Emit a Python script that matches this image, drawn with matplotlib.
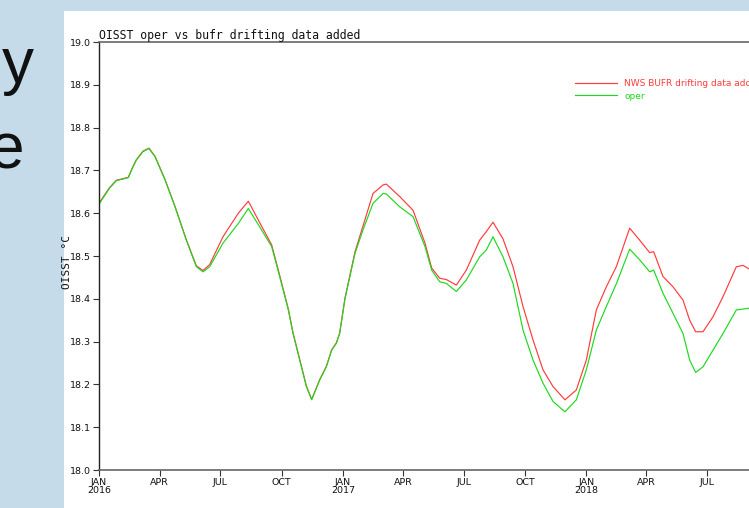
import numpy as np
import pandas as pd
import matplotlib
matplotlib.use("Agg")
import matplotlib.pyplot as plt
import matplotlib.dates as mdates
from matplotlib.patches import Rectangle

# ---- data (days since 2016-01-01, OISST values) ----
days = [0, 8, 16, 26, 34, 44, 50, 56, 66, 75, 84, 99, 114, 131, 146, 156, 166,
        186, 209, 224, 241, 259, 271, 284, 291, 301, 311, 319, 331, 341, 349,
        356, 361, 369, 384, 396, 411, 426, 431, 451, 471, 489, 499, 511, 521,
        536, 551, 571, 581, 591, 606, 621, 636, 651, 666, 681, 699, 716, 731,
        746, 761, 776, 796, 811, 826, 832, 846, 861, 876, 886, 895, 906, 921,
        936, 956, 966, 975]
oper = [18.621, 18.640, 18.659, 18.676, 18.679, 18.683, 18.705, 18.724, 18.744,
        18.751, 18.732, 18.678, 18.615, 18.537, 18.475, 18.463, 18.475, 18.530,
        18.576, 18.611, 18.568, 18.522, 18.452, 18.374, 18.319, 18.257, 18.195,
        18.164, 18.210, 18.241, 18.280, 18.296, 18.319, 18.400, 18.506, 18.561,
        18.623, 18.646, 18.645, 18.615, 18.592, 18.522, 18.467, 18.440, 18.436,
        18.417, 18.444, 18.498, 18.514, 18.545, 18.498, 18.436, 18.327, 18.257,
        18.203, 18.160, 18.136, 18.164, 18.234, 18.327, 18.382, 18.435, 18.516,
        18.491, 18.463, 18.467, 18.413, 18.366, 18.319, 18.257, 18.228, 18.241,
        18.280, 18.319, 18.374, 18.376, 18.378]
bufr = [18.623, 18.642, 18.660, 18.677, 18.680, 18.684, 18.706, 18.725, 18.745,
        18.752, 18.733, 18.679, 18.616, 18.538, 18.477, 18.466, 18.480, 18.545,
        18.600, 18.628, 18.578, 18.526, 18.455, 18.376, 18.321, 18.259, 18.197,
        18.165, 18.211, 18.242, 18.281, 18.297, 18.320, 18.402, 18.510, 18.570,
        18.646, 18.666, 18.668, 18.639, 18.607, 18.530, 18.472, 18.448, 18.445,
        18.432, 18.467, 18.537, 18.557, 18.579, 18.540, 18.475, 18.382, 18.304,
        18.234, 18.195, 18.164, 18.187, 18.257, 18.374, 18.428, 18.475, 18.565,
        18.537, 18.508, 18.510, 18.452, 18.428, 18.397, 18.350, 18.323, 18.323,
        18.358, 18.405, 18.475, 18.478, 18.470]
series_labels = ["NWS BUFR drifting data added", "oper"]
title = "OISST oper vs bufr drifting data added"
ylabel = "OISST \u00b0C"
yticks = [18.0, 18.1, 18.2, 18.3, 18.4, 18.5, 18.6, 18.7, 18.8, 18.9, 19.0]

dates = pd.Timestamp("2016-01-01") + pd.to_timedelta(days, unit="D")

NARROW = ["Liberation Sans Narrow", "DejaVu Sans"]
MONO = ["DejaVu Sans Mono", "DejaVu Sans"]

W, H = 749, 508
fig = plt.figure(figsize=(W / 100, H / 100), dpi=100)
fig.patch.set_facecolor("#c5dbe9")
panel = Rectangle((64 / W, 0), 1 - 64 / W, (H - 11) / H,
                  transform=fig.transFigure, facecolor="white",
                  edgecolor="none", zorder=-10)
fig.patches.append(panel)

# partial slide text on the left
fig.text(34 / W, 1 - 83 / H, "y", fontsize=46, family="Liberation Sans",
         ha="right", va="baseline", color="#111111")
fig.text(24 / W, 1 - 168 / H, "e", fontsize=46, family="Liberation Sans",
         ha="right", va="baseline", color="#111111")

ax = fig.add_axes([99 / W, 38 / H, 730 / W, 428 / H])
ax.set_zorder(5)
ax.set_facecolor("none")
ax.plot(dates, bufr, color="#ff3b3b", lw=0.85, label=series_labels[0])
ax.plot(dates, oper, color="#1ed81e", lw=0.85, label=series_labels[1])

ax.set_ylim(18.0, 19.0)
ax.set_xlim(pd.Timestamp("2016-01-01"), pd.Timestamp("2016-01-01") + pd.Timedelta(days=1095))
ax.set_yticks(yticks)
ax.set_yticklabels([f"{v:.1f}" for v in yticks])

ax.xaxis.set_major_locator(mdates.MonthLocator(bymonth=[1, 4, 7, 10]))
def fmt(x, pos):
    d = mdates.num2date(x)
    s = d.strftime("%b").upper()
    if d.month == 1:
        s += "\n" + str(d.year)
    return s
ax.xaxis.set_major_formatter(plt.FuncFormatter(fmt))

ax.tick_params(axis="both", labelsize=6.8, length=4, width=0.8, pad=1.5,
               color="#333333", labelcolor="#111111")
for lab in ax.get_xticklabels() + ax.get_yticklabels():
    lab.set_family(NARROW)
for lab in ax.get_xticklabels():
    lab.set_linespacing(0.95)

ax.spines["left"].set_color("#222222")
ax.spines["left"].set_linewidth(1.0)
for s in ["top", "bottom", "right"]:
    ax.spines[s].set_color("#666666")
    ax.spines[s].set_linewidth(1.2)

ax.set_title(title, loc="left", fontsize=8.3, pad=1, color="#111111", family=MONO)
fig.text(67 / W, 1 - 262 / H, ylabel, rotation=90, fontsize=8,
         ha="center", va="center", color="#111111", zorder=6, family=MONO)

leg = ax.legend(loc="upper left", bbox_to_anchor=((575 - 99) / 730, 1 - (79 - 42) / 428),
                frameon=False, prop={"size": 6.5, "family": "DejaVu Sans"},
                handlelength=4.7, handletextpad=0.75,
                labelspacing=0.4, borderpad=0, borderaxespad=0,
                labelcolor="linecolor")

fig.savefig("out.png", dpi=100, facecolor=fig.get_facecolor())
